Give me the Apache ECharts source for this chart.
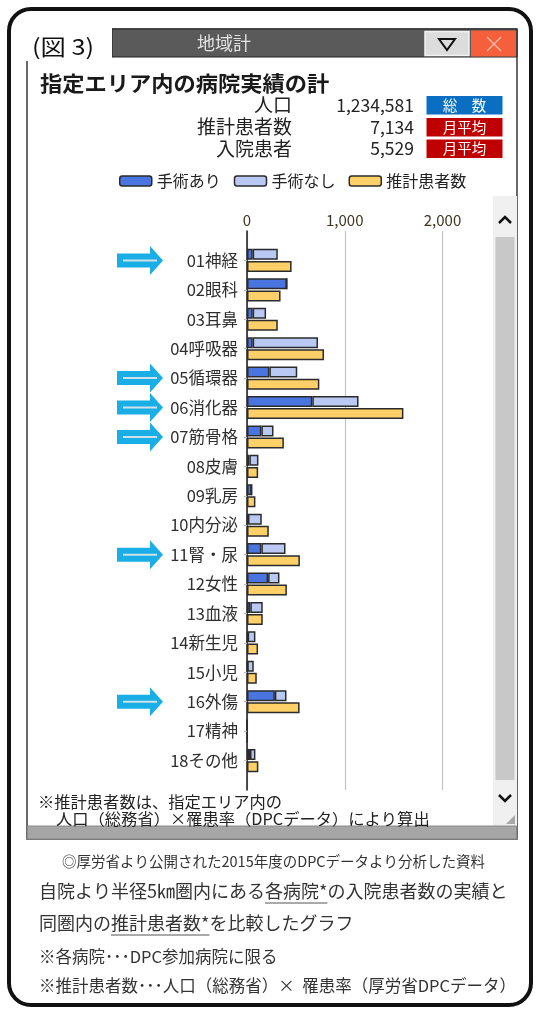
<!DOCTYPE html>
<html>
<head>
<meta charset="utf-8">
<script src="https://cdn.jsdelivr.net/npm/echarts@6/dist/echarts.min.js"></script>
<style>
  html, body { margin: 0; padding: 0; background: #fff; }
  #chart { width: 536px; height: 1014px; }
</style>
</head>
<body>
<div id="chart"></div>
<script>
// ---- data ----
const categories = ['01神経', '02眼科', '03耳鼻', '04呼吸器', '05循環器', '06消化器', '07筋骨格', '08皮膚', '09乳房',
  '10内分泌', '11腎・尿', '12女性', '13血液', '14新生児', '15小児', '16外傷', '17精神', '18その他'];
const withSurgery    = [58, 408, 58, 58, 229, 668, 147, 24, 48, 10, 147, 216, 34, 7, 3, 285, 0, 31];
const withoutSurgery = [257, 0, 137, 668, 285, 473, 124, 93, 0, 141, 247, 116, 127, 79, 66, 119, 2, 55];
const estimated      = [456, 343, 315, 788, 740, 1600, 377, 114, 86, 223, 541, 408, 161, 113, 100, 538, 3, 116];
const xTicks = [0, 1000, 2000];
const flagged = ['01神経', '05循環器', '06消化器', '07筋骨格', '11腎・尿', '16外傷'];
const seriesNames = ['手術あり', '手術なし', '推計患者数'];
const summaryLabels = ['人口', '推計患者数', '入院患者'];
const summaryValues = ['1,234,581', '7,134', '5,529'];
const summaryTags = ['総　数', '月平均', '月平均'];
const notes = ['※推計患者数は、指定エリア内の', '人口（総務省）×罹患率（DPCデータ）により算出'];
const footer = [
  '◎厚労省より公開された2015年度のDPCデータより分析した資料',
  '自院より半径5㎞圏内にある各病院*の入院患者数の実績と',
  '同圏内の推計患者数*を比較したグラフ',
  '※各病院･･･DPC参加病院に限る',
  '※推計患者数･･･人口（総務省）×  罹患率（厚労省DPCデータ）'
];

// ---- styling helpers ----
const FONT = '"Noto Sans CJK JP", "Noto Sans", sans-serif';
const measureCtx = document.createElement('canvas').getContext('2d');
function textWidth(s, size) {
  measureCtx.font = size + 'px ' + FONT;
  return measureCtx.measureText(s).width;
}
function label(text, x, y, size, opt) {
  opt = opt || {};
  return {
    type: 'text', x: x, y: y, z: opt.z || 10,
    scaleX: opt.sx || 1,
    style: {
      text: text, x: 0, y: 0,
      fontSize: size, fontFamily: FONT,
      fontWeight: opt.weight || 'normal',
      fill: opt.color || '#222',
      align: opt.align || 'left',
      verticalAlign: 'middle'
    }
  };
}
function box(x, y, w, h, fill, stroke, lw, z) {
  return { type: 'rect', z: z || 1, shape: { x: x, y: y, width: w, height: h },
    style: { fill: fill, stroke: stroke || null, lineWidth: lw || 0 } };
}
function underline(prefix, part, x, y, size) {
  const x1 = x + textWidth(prefix, size);
  const x2 = x1 + textWidth(part, size);
  return { type: 'line', z: 10, shape: { x1: x1, y1: y, x2: x2, y2: y },
    style: { stroke: '#555', lineWidth: 1 } };
}

// ---- window chrome, header and captions ----
const graphics = [];
// window frame
graphics.push(box(27, 29, 490, 810, 'none', '#3a3a3a', 1.5, 1));
// title bar
graphics.push(box(112, 29, 405, 28, '#5a5a5a', '#222', 1, 2));
graphics.push(label('地域計', 224, 43, 18, { color: '#e2e2e2', align: 'center' }));
// dropdown button
graphics.push(box(425, 31.5, 44, 24, '#dcdcdc', '#f2f2f2', 1.5, 3));
graphics.push({ type: 'polygon', z: 4, shape: { points: [[439, 39], [455, 39], [447, 50]] },
  style: { fill: 'none', stroke: '#111', lineWidth: 2 } });
// close button
graphics.push(box(471, 30.5, 45, 26, '#f5603c', null, 0, 3));
graphics.push({ type: 'line', z: 4, shape: { x1: 487, y1: 37, x2: 501, y2: 51 }, style: { stroke: '#fbb4a2', lineWidth: 1.5 } });
graphics.push({ type: 'line', z: 4, shape: { x1: 501, y1: 37, x2: 487, y2: 51 }, style: { stroke: '#fbb4a2', lineWidth: 1.5 } });
// figure number tab
graphics.push(box(13, 16, 99, 45, '#fff', null, 0, 5));
graphics.push(label('(図 3)', 32, 47, 22, { color: '#111', sx: 1.15 }));

// panel title and summary
graphics.push(label('指定エリア内の病院実績の計', 40, 83, 21, { weight: 'bold', color: '#1a1a1a', sx: 1.06 }));
const rowY = [105, 127, 148.5];
const tagColors = ['#0a6fc2', '#c00000', '#c00000'];
summaryLabels.forEach(function (s, i) {
  graphics.push(label(s, 292, rowY[i], 19, { align: 'right', color: '#222' }));
  graphics.push(label(summaryValues[i], 414, rowY[i], 17.5, { align: 'right', color: '#222' }));
  graphics.push(box(426, rowY[i] - 9.5, 77, 19.5, tagColors[i], '#fff', 1, 3));
  graphics.push(label(summaryTags[i], 464.5, rowY[i], 14.5, { align: 'center', color: '#fff' }));
});

// scroll bar
graphics.push(box(493, 196, 24, 630, '#f0f0f0', null, 0, 1));
graphics.push(box(495.5, 237, 19, 543, '#c8c8c8', null, 0, 2));
graphics.push({ type: 'polyline', z: 3, shape: { points: [[499, 223], [505, 217], [511, 223]] },
  style: { stroke: '#111', lineWidth: 2.5, fill: null } });
graphics.push({ type: 'polyline', z: 3, shape: { points: [[499, 795], [505, 801], [511, 795]] },
  style: { stroke: '#111', lineWidth: 2.5, fill: null } });
graphics.push({ type: 'polygon', z: 3, shape: { points: [[515, 815], [515, 824], [506, 824]] },
  style: { fill: '#a8a8a8' } });
// status bar
graphics.push(box(27.5, 826, 489, 13, '#a6a6a6', '#8a8a8a', 1, 2));

// note under the plot
graphics.push(label(notes[0], 38, 802, 15.5, { color: '#222', sx: 1.05 }));
graphics.push(label(notes[1], 56, 819, 15.5, { color: '#222', sx: 1.05 }));

// captions below the window
const footY = [861, 891, 923, 957, 986];
const footSize = [14.5, 18, 18, 16.5, 16.5];
footer.forEach(function (s, i) {
  graphics.push(label(s, i === 0 ? 62 : 39, footY[i], footSize[i], { color: '#333' }));
});
graphics.push(underline('自院より半径5㎞圏内にある', '各病院*', 39, footY[1] + 12, footSize[1]));
graphics.push(underline('同圏内の', '推計患者数*', 39, footY[2] + 12, footSize[2]));

// rounded outer frame
graphics.push({ type: 'rect', z: 20, shape: { x: 9, y: 9, width: 522, height: 996, r: 22 },
  style: { fill: 'none', stroke: '#111', lineWidth: 4 } });

// ---- chart ----
const yData = [''].concat(categories, ['']);   // blank slots pad the top and bottom of the axis
const barStyle = function (c) { return { color: c, borderColor: '#2b2b2b', borderWidth: 1.5 }; };
const pairs = function (arr) { return arr.map(function (v, i) { return [v, categories[i]]; }); };

const chart = echarts.init(document.getElementById('chart'), null, { renderer: 'canvas' });
chart.setOption({
  animation: false,
  backgroundColor: '#fff',
  textStyle: { fontFamily: FONT },
  grid: { left: 247, top: 231, width: 195.5, height: 559, containLabel: false },
  legend: {
    data: seriesNames,
    left: 114, top: 168,
    itemWidth: 32, itemHeight: 10, itemGap: 13,
    itemStyle: { borderColor: '#2b2b2b', borderWidth: 1.5 },
    textStyle: { fontSize: 16, color: '#222', fontFamily: FONT },
    selectedMode: false
  },
  xAxis: {
    type: 'value', position: 'top',
    min: xTicks[0], max: xTicks[xTicks.length - 1], interval: xTicks[1] - xTicks[0],
    axisLine: { show: false }, axisTick: { show: false },
    splitLine: { lineStyle: { color: '#c4c4c4', width: 1.2 } },
    axisLabel: { fontSize: 15, color: '#3b3423', margin: 3,
      formatter: function (v) { return v.toLocaleString('en-US'); } }
  },
  yAxis: {
    type: 'category', inverse: true, boundaryGap: false, data: yData,
    axisLine: { lineStyle: { color: '#1a1a1a', width: 1.5 } },
    axisTick: { length: 3, lineStyle: { color: '#bbbbbb' },
      interval: function (i) { return i > 0 && i < yData.length - 1; } },
    axisLabel: { fontSize: 16.5, color: '#2e2e2e', margin: 9, interval: 0 },
    splitLine: { show: false }
  },
  graphic: graphics,
  series: [
    { name: seriesNames[0], type: 'bar', stack: 'inpatients', data: pairs(withSurgery),
      barWidth: 11, barGap: '10%', itemStyle: barStyle('#4a74df') },
    { name: seriesNames[1], type: 'bar', stack: 'inpatients', data: pairs(withoutSurgery),
      barWidth: 11, barGap: '10%', itemStyle: barStyle('#b9c9f4') },
    { name: seriesNames[2], type: 'bar', data: pairs(estimated),
      barWidth: 11, barGap: '10%', itemStyle: barStyle('#ffd067') },
    {
      // pointer arrows marking the highlighted departments
      type: 'custom', silent: true, z: 5,
      data: flagged.map(function (c) { return [0, c]; }),
      encode: { x: 0, y: 1 },
      renderItem: function (params, api) {
        const p = api.coord([0, api.value(1)]);
        const ax = p[0], cy = p[1];
        const tip = ax - 84, neck = ax - 97, tail = ax - 130;
        return {
          type: 'group',
          children: [
            { type: 'polygon', shape: { points: [[tail, cy - 7], [neck, cy - 7], [neck, cy - 14.5], [tip, cy],
              [neck, cy + 14.5], [neck, cy + 7], [tail, cy + 7]] }, style: { fill: '#1aaee6' } },
            { type: 'line', shape: { x1: tail + 6, y1: cy, x2: tip - 6, y2: cy },
              style: { stroke: '#cfe2ea', lineWidth: 2 } }
          ]
        };
      }
    }
  ]
});
</script>
</body>
</html>
